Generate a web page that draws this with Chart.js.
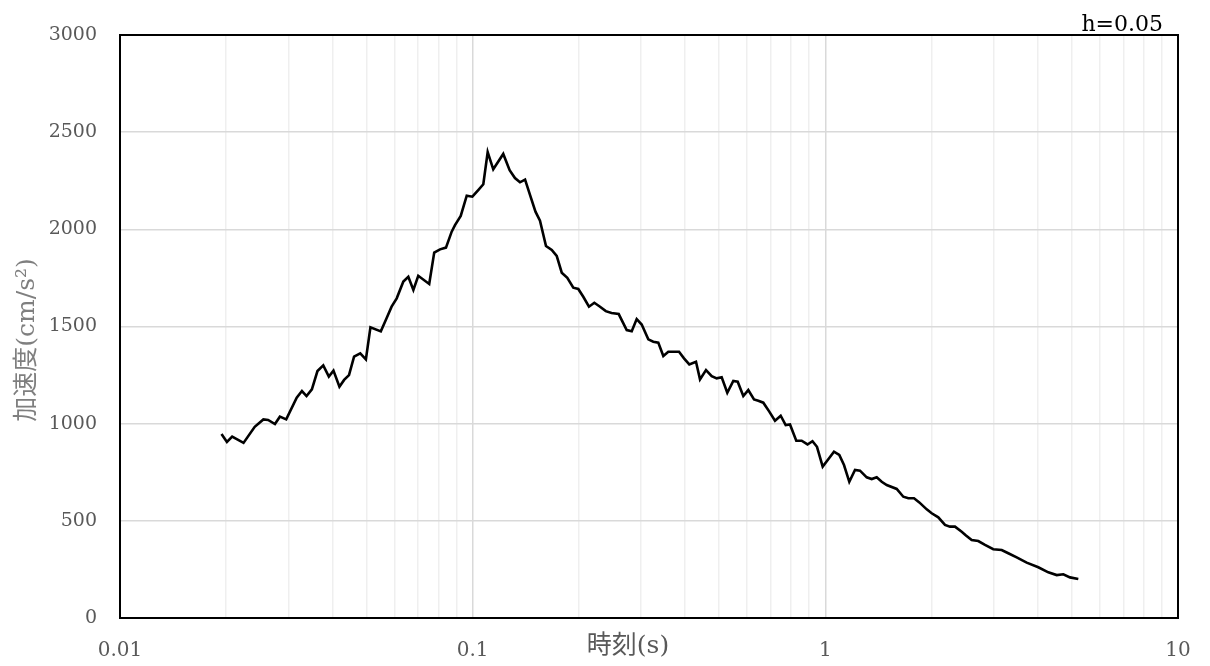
<!DOCTYPE html>
<html>
<head>
<meta charset="utf-8">
<script src="https://cdn.jsdelivr.net/npm/chart.js@4.4.1/dist/chart.umd.min.js"></script>
<style>
  html, body { margin: 0; padding: 0; background: #ffffff; }
  #wrap { width: 1210px; height: 666px; }
</style>
</head>
<body>
<div id="wrap"><canvas id="c" width="1210" height="666"></canvas></div>
<script>
// ---- data ----
const periods = [
  0.0194, 0.0201, 0.0208, 0.0224, 0.0241, 0.0255, 0.0263, 0.0275, 0.0284, 0.0296,
  0.0317, 0.0328, 0.0338, 0.0350, 0.0363, 0.0377, 0.0391, 0.0403, 0.0419, 0.0432,
  0.0446, 0.0461, 0.0480, 0.0498, 0.0513, 0.0549, 0.0570, 0.0589, 0.0609, 0.0636,
  0.0657, 0.0679, 0.0701, 0.0753, 0.0778, 0.0808, 0.0840, 0.0872, 0.0891, 0.0925,
  0.0962, 0.0998, 0.1037, 0.1072, 0.1103, 0.1144, 0.1221, 0.1273, 0.1318, 0.1362,
  0.1408, 0.1454, 0.1507, 0.1552, 0.1614, 0.1676, 0.1731, 0.1789, 0.1855, 0.1929,
  0.1993, 0.2059, 0.2137, 0.2213, 0.2297, 0.2385, 0.2476, 0.2595, 0.2734, 0.2825,
  0.2918, 0.3015, 0.3148, 0.3252, 0.3360, 0.3472, 0.3587, 0.3847, 0.3974, 0.4114,
  0.4298, 0.4412, 0.4588, 0.4762, 0.4920, 0.5083, 0.5272, 0.5483, 0.5643, 0.5853,
  0.6047, 0.6277, 0.6455, 0.6670, 0.6936, 0.7199, 0.7472, 0.7720, 0.7940, 0.8272,
  0.8569, 0.8900, 0.9195, 0.9470, 0.9829, 1.0195, 1.0581, 1.0954, 1.1296, 1.1694,
  1.2137, 1.2540, 1.3101, 1.3536, 1.3986, 1.4450, 1.4930, 1.5937, 1.6639, 1.7191,
  1.7843, 1.8471, 1.9386, 2.0026, 2.0907, 2.1842, 2.2567, 2.3316, 2.4359, 2.5052,
  2.6002, 2.7147, 2.8362, 2.9940, 3.1628, 3.3021, 3.4884, 3.7236, 4.0165, 4.2878,
  4.5296, 4.7292, 4.9407, 5.2159
];
const accel = [
  947, 906, 933, 901, 984, 1022, 1019, 998, 1036, 1022,
  1134, 1168, 1142, 1177, 1271, 1300, 1242, 1273, 1190, 1225,
  1250, 1345, 1362, 1331, 1496, 1475, 1542, 1602, 1645, 1731,
  1756, 1688, 1761, 1719, 1880, 1897, 1906, 1988, 2022, 2069,
  2173, 2168, 2202, 2232, 2398, 2309, 2388, 2304, 2264, 2242,
  2256, 2177, 2091, 2045, 1914, 1894, 1863, 1777, 1751, 1700,
  1693, 1653, 1602, 1622, 1602, 1579, 1569, 1564, 1482, 1476,
  1538, 1510, 1434, 1422, 1417, 1348, 1370, 1370, 1336, 1305,
  1319, 1228, 1276, 1245, 1233, 1239, 1159, 1220, 1216, 1142,
  1173, 1125, 1118, 1108, 1062, 1015, 1041, 993, 996, 912,
  912, 893, 910, 881, 779, 817, 856, 839, 787, 701,
  762, 758, 724, 715, 724, 701, 684, 664, 624, 616,
  616, 595, 559, 539, 518, 479, 470, 470, 444, 425,
  401, 396, 376, 354, 350, 333, 312, 285, 261, 235,
  221, 225, 209, 201
];
const decades = [0.01, 0.1, 1];
const multipliers = [1, 2, 3, 4, 5, 6, 7, 8, 9];
const xMajorTicks = [0.01, 0.1, 1, 10];
const xTickLabels = ['0.01', '0.1', '1', '10'];
const yTicks = [0, 500, 1000, 1500, 2000, 2500, 3000];
const xTitle = '時刻(s)';
const yTitle = '加速度(cm/s²)';
const noteText = 'h=0.05';

// ---- build ----
const xTickValues = [];
decades.forEach(d => multipliers.forEach(m => xTickValues.push(+(d * m).toPrecision(3))));
xTickValues.push(10);

const points = periods.map((p, i) => ({ x: p, y: accel[i] }));

const isMajor = v => xMajorTicks.some(t => Math.abs(t - v) / t < 1e-6);

const SERIF = '"DejaVu Serif", "Liberation Serif", serif';
const MIXED = '"DejaVu Serif", "Noto Sans CJK JP", serif';

const framePlugin = {
  id: 'frameAndText',
  afterDraw(chart) {
    const { ctx, chartArea: a } = chart;
    ctx.save();
    ctx.strokeStyle = '#000000';
    ctx.lineWidth = 2;
    ctx.strokeRect(a.left, a.top, a.right - a.left, a.bottom - a.top);

    // note text top-right
    ctx.fillStyle = '#000000';
    ctx.font = '22px ' + SERIF;
    ctx.textAlign = 'right';
    ctx.textBaseline = 'alphabetic';
    ctx.fillText(noteText, 1163, 31);

    // x title
    ctx.fillStyle = '#595959';
    ctx.font = '25px ' + MIXED;
    ctx.textAlign = 'center';
    ctx.textBaseline = 'middle';
    ctx.fillText(xTitle, 628, 646);

    // y title (rotated)
    ctx.translate(27, 340);
    ctx.rotate(-Math.PI / 2);
    ctx.fillStyle = '#7f7f7f';
    ctx.font = '25px ' + MIXED;
    ctx.textAlign = 'center';
    ctx.textBaseline = 'middle';
    ctx.fillText(yTitle, 0, 0);
    ctx.restore();
  }
};

new Chart(document.getElementById('c'), {
  type: 'line',
  data: {
    datasets: [{
      data: points,
      borderColor: '#000000',
      borderWidth: 2.6,
      pointRadius: 0,
      fill: false,
      tension: 0
    }]
  },
  options: {
    responsive: false,
    devicePixelRatio: 1,
    animation: false,
    layout: { padding: { top: 35, right: 32, left: 0, bottom: 0 } },
    plugins: { legend: { display: false }, tooltip: { enabled: false } },
    scales: {
      x: {
        type: 'logarithmic',
        min: 0.01,
        max: 10,
        afterBuildTicks: s => { s.ticks = xTickValues.map(v => ({ value: v })); },
        afterFit: s => { s.height = 48; s.paddingLeft = 0; s.paddingRight = 0; },
        border: { display: false },
        grid: {
          drawTicks: false,
          color: c => (c.tick && isMajor(c.tick.value)) ? '#d9d9d9' : '#efefef',
          lineWidth: 1.5
        },
        ticks: {
          autoSkip: false,
          maxRotation: 0,
          padding: 21,
          color: '#595959',
          font: { family: SERIF, size: 20 },
          callback: v => {
            const i = xMajorTicks.findIndex(t => Math.abs(t - v) / t < 1e-6);
            return i >= 0 ? xTickLabels[i] : '';
          }
        }
      },
      y: {
        min: 0,
        max: 3000,
        afterBuildTicks: s => { s.ticks = yTicks.map(v => ({ value: v })); },
        afterFit: s => { s.width = 120; s.paddingTop = 0; s.paddingBottom = 0; },
        border: { display: false },
        grid: { drawTicks: false, color: '#d9d9d9', lineWidth: 1.5 },
        ticks: {
          padding: 23,
          color: '#595959',
          font: { family: SERIF, size: 19 },
          callback: v => String(v)
        }
      }
    }
  },
  plugins: [framePlugin]
});
</script>
</body>
</html>
